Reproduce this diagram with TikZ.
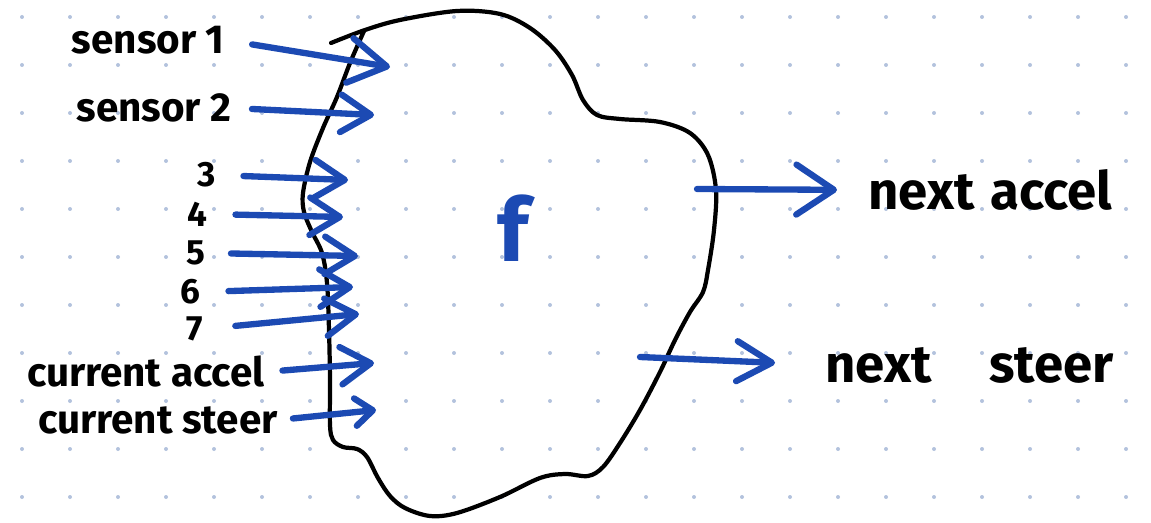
\documentclass[tikz,border=0pt]{standalone}
\usepackage{fontspec}
\setmainfont{Fira Sans}
\usepackage{tikz}
\usetikzlibrary{arrows.meta,calc}
\definecolor{pen}{HTML}{1C4AB3}
\definecolor{dotgray}{HTML}{B3C2DD}
\tikzset{
  inlbl/.style={anchor=east,inner sep=0pt,font=\fontsize{23}{23}\selectfont\bfseries},
  numlbl/.style={inlbl,font=\fontsize{20}{20}\selectfont\bfseries},
  outlbl/.style={anchor=west,inner sep=0pt,font=\fontsize{30}{30}\selectfont\bfseries},
  inarr/.style={draw=pen,line width=3.6pt,line cap=round,shorten <=0.5cm,
                -{Straight Barb[round,length=6mm,width=7.5mm]}},
  outarr/.style={draw=pen,line width=3.6pt,line cap=round,
                 -{Straight Barb[round,length=7.5mm,width=10mm]}},
  blob/.style={draw=black,line width=2.4pt,line join=round,line cap=round}
}
\begin{document}
\begin{tikzpicture}[x=0.02cm,y=-0.02cm]
  \useasboundingbox (0,0) rectangle (1151,523);
  % dot grid
  \foreach \i in {0,...,23}
    \foreach \j in {0,...,10}
      \fill[dotgray] (22+48*\i,17+48*\j) circle (0.04cm);

  % the function f
  \draw[blob] plot[smooth,tension=0.55] coordinates {
    (331,43) (365,30) (400,20) (457,11) (500,14) (530,28) (555,50) (572,75)
    (583,100) (597,115) (620,119) (660,122) (690,133) (708,155) (716,190)
    (714,230) (708,270) (703,292) (690,312) (675,340) (660,372) (640,410)
    (620,443) (603,467) (588,476) (565,474) (540,478) (500,497) (457,513)
    (430,516) (405,508) (390,496) (378,478) (367,457) (357,449) (343,447)
    (333,440) (330,425) (330,380) (329,330) (327,283) (322,253) (312,232)
    (304,212) (303,193) (310,162) (323,128) (337,97) (350,63) (364,31)};
  \node[font=\fontsize{50}{50}\selectfont\bfseries,text=pen] (f) at (513,228) {f};

  % inputs
  \node[inlbl] (s1) at (225,40) {sensor 1};
  \node[inlbl] (s2) at (232,108) {sensor 2};
  \node[numlbl] (s3) at (216,175) {3};
  \node[numlbl] (s4) at (208,214) {4};
  \node[numlbl] (s5) at (206,253) {5};
  \node[numlbl] (s6) at (201,292) {6};
  \node[numlbl] (s7) at (203,329) {7};
  \node[inlbl] (cacc) at (265,372) {current accel};
  \node[inlbl] (cstr) at (278,420) {current steer};

  \coordinate (s1tip) at (390,67);
  \coordinate (s2tip) at (374,115);
  \coordinate (s3tip) at (348,180);
  \coordinate (s4tip) at (343,217);
  \coordinate (s5tip) at (358,256);
  \coordinate (s6tip) at (353,287);
  \coordinate (s7tip) at (359,314);
  \coordinate (cacctip) at (374,363);
  \coordinate (cstrtip) at (376,410);

  \draw[inarr,shorten <=0.55cm,-{Straight Barb[round,length=7.5mm,width=9mm]}] (s1.east) -- (s1tip);
  \draw[inarr,shorten <=0.4cm] (s2.east) -- (s2tip);
  \draw[inarr,shorten <=0.55cm] (s3.east) -- (s3tip);
  \draw[inarr,shorten <=0.55cm] (s4.east) -- (s4tip);
  \draw[inarr,shorten <=0.5cm] (s5.east) -- (s5tip);
  \draw[inarr,shorten <=0.55cm] (s6.east) -- (s6tip);
  \draw[inarr,shorten <=0.65cm] (s7.east) -- (s7tip);
  \draw[inarr,shorten <=0.35cm] (cacc.east) -- (cacctip);
  \draw[inarr,shorten <=0.3cm,-{Straight Barb[round,length=3.5mm,width=5.5mm]}] (cstr.east) -- (cstrtip);

  % outputs
  \coordinate (nacc0) at (697,189);
  \coordinate (nstr0) at (640,357);
  \node[outlbl] (nacc) at (868,190) {next\hspace{0.3em}accel};
  \node[outlbl] (nstr) at (825,365) {next\hspace{1.1em}steer};
  \draw[outarr,shorten >=0.62cm] (nacc0) -- (nacc.west);
  \draw[outarr,shorten >=1cm,-{Straight Barb[round,length=7mm,width=8mm]}] (nstr0) -- (nstr.west);
\end{tikzpicture}
\end{document}
